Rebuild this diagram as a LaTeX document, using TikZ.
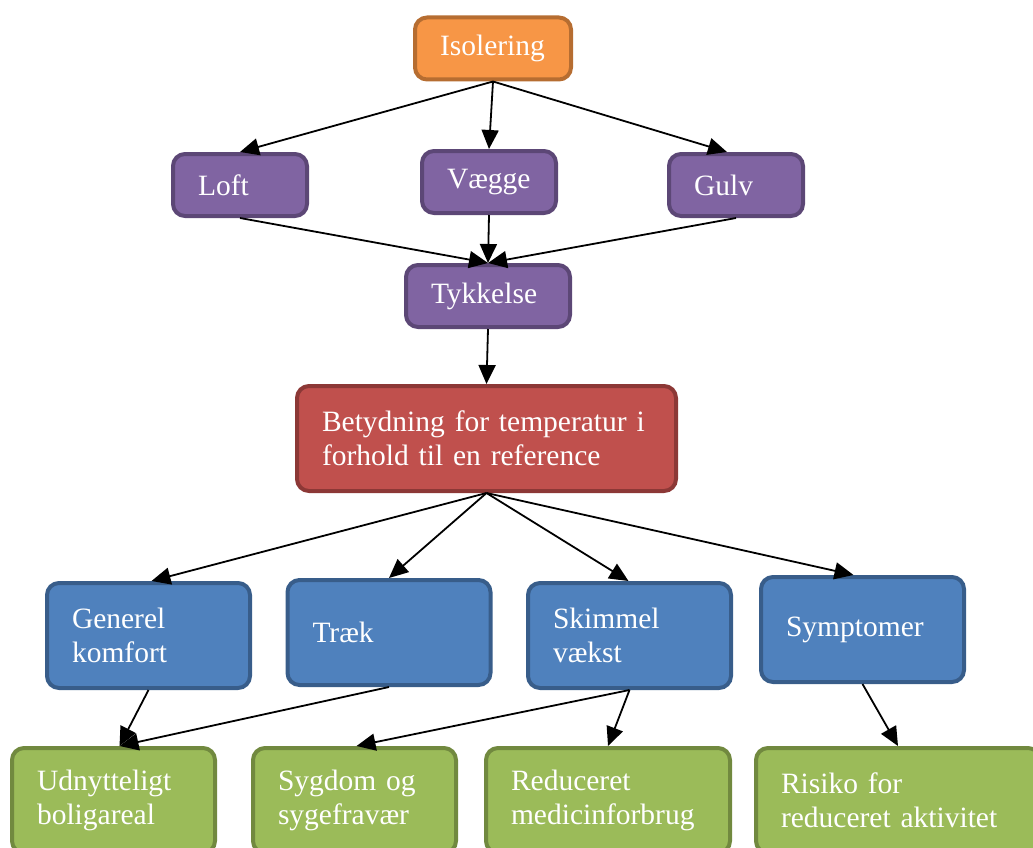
\documentclass[tikz,border=0pt]{standalone}
\usepackage{fontspec}
\setmainfont{Liberation Serif}
\usetikzlibrary{arrows.meta}

\definecolor{isolfyld}{HTML}{F79646}
\definecolor{isolkant}{HTML}{B66D31}
\definecolor{lillafyld}{HTML}{8064A2}
\definecolor{lillakant}{HTML}{5C4776}
\definecolor{rodfyld}{HTML}{C0504D}
\definecolor{rodkant}{HTML}{8C3836}
\definecolor{blafyld}{HTML}{4F81BD}
\definecolor{blakant}{HTML}{385D8A}
\definecolor{gronfyld}{HTML}{9BBB59}
\definecolor{gronkant}{HTML}{71893F}

\begin{document}
\begin{tikzpicture}[x=1pt, y=-1pt,
	every node/.style={font=\fontsize{29.5}{34.5}\selectfont, text=white},
	boks/.style={rectangle, rounded corners=12pt, line width=4pt, inner xsep=25pt, inner ysep=2pt, align=left},
	lav/.style={boks, minimum height=62pt},
	hoj/.style={boks, minimum height=105pt},
	isol/.style={lav, draw=isolkant, fill=isolfyld},
	lilla/.style={lav, draw=lillakant, fill=lillafyld},
	rod/.style={hoj, draw=rodkant, fill=rodfyld},
	bla/.style={hoj, draw=blakant, fill=blafyld, text width=153pt},
	gron/.style={hoj, draw=gronkant, fill=gronfyld, text width=153pt},
	arr/.style={-{Triangle[length=19pt, width=17pt]}, line width=1.8pt}
	]

\useasboundingbox (0,0) rectangle (1033,848);

\node[isol, text width=106pt] (isolering) at (493,48.5) {Isolering};

\node[lilla, text width=84pt] (loft) at (240,185) {Loft};
\node[lilla, text width=84pt] (vaegge) at (489,182) {Vægge};
\node[lilla, text width=84pt] (gulv) at (736,185) {Gulv};
\node[lilla, text width=114pt] (tykkelse) at (488,296) {Tykkelse};

\node[rod, text width=329pt] (betydning) at (486.5,438.5) {Betydning for temperatur i\\forhold til en reference};

\node[bla] (komfort) at (148.5,635.5) {Generel\\komfort};
\node[bla] (traek) at (389,632.5) {Træk};
\node[bla] (skimmel) at (629.5,635.5) {Skimmel\\vækst};
\node[bla] (symptomer) at (862.5,629.5) {Symptomer};

\node[gron] (boligareal) at (113.5,800.5) {Udnytteligt\\boligareal};
\node[gron] (sygdom) at (354.5,800.5) {Sygdom og\\sygefravær};
\node[gron, text width=194pt] (medicin) at (608,800.5) {Reduceret\\medicinforbrug};
\node[gron, text width=234pt] (risiko) at (898,800.5) {Risiko for\\reduceret aktivitet};

\path[arr]
(isolering.south) edge (loft.north)
(isolering.south) edge (vaegge.north)
(isolering.south) edge ([xshift=-9pt]gulv.north)
(loft.south) edge (tykkelse.north)
(vaegge.south) edge (tykkelse.north)
(gulv.south) edge (tykkelse.north)
(tykkelse.south) edge (betydning.north);

\path[arr]
(betydning.south) edge ([xshift=3pt]komfort.north)
(betydning.south) edge (traek.north)
(betydning.south) edge ([xshift=-1pt]skimmel.north)
(betydning.south) edge ([xshift=-9pt]symptomer.north)
(komfort.south) edge ([xshift=6pt]boligareal.north)
(traek.south) edge ([xshift=6pt]boligareal.north)
(skimmel.south) edge ([xshift=2pt]sygdom.north)
(skimmel.south) edge (medicin.north)
(symptomer.south) edge (risiko.north);

\end{tikzpicture}
\end{document}
